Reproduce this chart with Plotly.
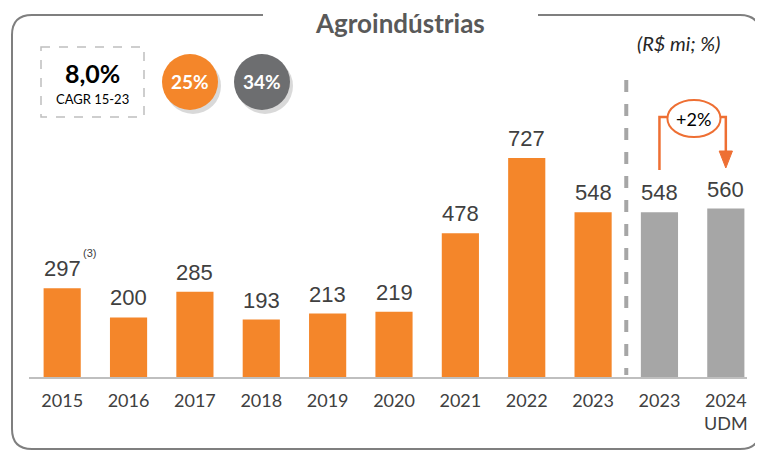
import plotly.graph_objects as go

categories = ["2015", "2016", "2017", "2018", "2019", "2020", "2021", "2022", "2023", "2023", "2024<br>UDM"]
values = [297, 200, 285, 193, 213, 219, 478, 727, 548, 548, 560]
bar_colors = ["#F4862A"] * 9 + ["#A6A6A6"] * 2
title_text = "Agroindústrias"
unit_text = "(R$ mi; %)"
cagr_value = "8,0%"
cagr_label = "CAGR 15-23"
share_orange = "25%"
share_gray = "34%"
growth_text = "+2%"
footnote = "(3)"

# page offset (body margin) compensation
OFF = 8
W, H = 763 - OFF, 451 - OFF

X0, X1 = 29, 759          # plot x extent (screen px)
YB, YT = 378, 40          # baseline / top (screen px)
ymax = (YB - YT) / 0.3026

def px(x):
    return (x - OFF) / W

def py(y):
    return 1 - (y - OFF) / H

idx = list(range(len(categories)))
SANS = "Lato, Open Sans, sans-serif"

fig = go.Figure()
fig.add_trace(go.Bar(
    x=idx, y=values, marker=dict(color=bar_colors, line=dict(width=0)),
    width=0.56, hoverinfo="skip", showlegend=False,
))

annotations = []
label_font = dict(family="Liberation Sans Narrow, Arial Narrow, Liberation Sans, Arial", size=22, color="#404040")
for i, v in zip(idx, values):
    annotations.append(dict(x=i, y=v, xref="x", yref="y", text=str(v), showarrow=False,
                            yanchor="bottom", yshift=5, font=label_font))
annotations.append(dict(x=0, y=values[0], xref="x", yref="y", text=footnote, showarrow=False,
                        xanchor="left", yanchor="bottom", xshift=19, yshift=27,
                        font=dict(family="Liberation Sans, Arial", size=11, color="#404040")))

annotations.append(dict(x=px(400), y=py(23), xref="paper", yref="paper", text="<b>" + title_text + "</b>",
                        showarrow=False, xanchor="center", yanchor="middle",
                        font=dict(family=SANS, size=26, color="#595959")))
annotations.append(dict(x=px(678), y=py(43), xref="paper", yref="paper", text="<i>" + unit_text + "</i>",
                        showarrow=False, xanchor="center", yanchor="middle",
                        font=dict(family=SANS, size=20, color="#262626")))
annotations.append(dict(x=px(92), y=py(73), xref="paper", yref="paper", text="<b>" + cagr_value + "</b>",
                        showarrow=False, xanchor="center", yanchor="middle",
                        font=dict(family=SANS, size=25, color="#000000")))
annotations.append(dict(x=px(92), y=py(99), xref="paper", yref="paper", text=cagr_label,
                        showarrow=False, xanchor="center", yanchor="middle",
                        font=dict(family=SANS, size=13, color="#000000")))
annotations.append(dict(x=px(190), y=py(82), xref="paper", yref="paper", text="<b>" + share_orange + "</b>",
                        showarrow=False, xanchor="center", yanchor="middle",
                        font=dict(family=SANS, size=19, color="#FFFFFF")))
annotations.append(dict(x=px(262), y=py(82), xref="paper", yref="paper", text="<b>" + share_gray + "</b>",
                        showarrow=False, xanchor="center", yanchor="middle",
                        font=dict(family=SANS, size=19, color="#FFFFFF")))

shapes = []
pts = [("M", 263, 15), ("L", 32, 15), ("Q", 12, 15, 12, 35), ("L", 12, 429), ("Q", 12, 449, 32, 449),
       ("L", 740, 449), ("Q", 760, 449, 760, 429), ("L", 760, 35), ("Q", 760, 15, 740, 15), ("L", 538, 15)]
path = ""
for p in pts:
    coords = p[1:]
    s = [f"{px(coords[k]):.5f},{py(coords[k+1]):.5f}" for k in range(0, len(coords), 2)]
    path += p[0] + " " + " ".join(s) + " "
shapes.append(dict(type="path", xref="paper", yref="paper", path=path.strip(),
                   line=dict(color="#7F7F7F", width=2)))

shapes.append(dict(type="line", xref="paper", yref="paper", x0=px(29), x1=px(747), y0=py(YB), y1=py(YB),
                   line=dict(color="#BFBFBF", width=2), layer="above"))

shapes.append(dict(type="rect", xref="paper", yref="paper", x0=px(41), x1=px(144), y0=py(47), y1=py(117),
                   line=dict(color="#BFBFBF", width=1.5, dash="dash")))

for cx, col in [(190, "#F4862A"), (262, "#6D6E70")]:
    r = 28
    shapes.append(dict(type="circle", xref="paper", yref="paper", x0=px(cx - r + 3), x1=px(cx + r + 3),
                       y0=py(82 + r + 4), y1=py(82 - r + 4), fillcolor="rgba(0,0,0,0.15)", line=dict(width=0)))
    shapes.append(dict(type="circle", xref="paper", yref="paper", x0=px(cx - r), x1=px(cx + r),
                       y0=py(82 + r), y1=py(82 - r), fillcolor=col, line=dict(width=0)))

shapes.append(dict(type="line", xref="x", yref="paper", x0=8.5, x1=8.5, y0=py(80), y1=py(375),
                   line=dict(color="#A6A6A6", width=4, dash="dash")))

arrow_col = "#EE6F33"
xa, xb = 9, 10
ell_cx = 9.52
ell_hw = 0.40
shapes.append(dict(type="path", xref="x", yref="paper",
                   path=f"M {xa},{py(170):.5f} L {xa},{py(117):.5f} L {ell_cx-ell_hw},{py(117):.5f}",
                   line=dict(color=arrow_col, width=2.5)))
shapes.append(dict(type="path", xref="x", yref="paper",
                   path=f"M {ell_cx+ell_hw},{py(117):.5f} L {xb},{py(117):.5f} L {xb},{py(153):.5f}",
                   line=dict(color=arrow_col, width=2.5)))
shapes.append(dict(type="path", xref="x", yref="paper",
                   path=f"M {xb-0.1},{py(151):.5f} L {xb+0.1},{py(151):.5f} L {xb},{py(168):.5f} Z",
                   fillcolor=arrow_col, line=dict(color=arrow_col, width=1)))
shapes.append(dict(type="circle", xref="x", yref="paper", x0=ell_cx - ell_hw, x1=ell_cx + ell_hw,
                   y0=py(137), y1=py(100), fillcolor="#FFFFFF", line=dict(color=arrow_col, width=2)))
annotations.append(dict(x=ell_cx, y=py(119), xref="x", yref="paper", text=growth_text, showarrow=False,
                        xanchor="center", yanchor="middle",
                        font=dict(family=SANS, size=18, color="#000000")))

fig.update_layout(
    width=W, height=H,
    margin=dict(l=0, r=0, t=0, b=0),
    paper_bgcolor="#FFFFFF", plot_bgcolor="rgba(0,0,0,0)",
    xaxis=dict(domain=[px(X0), px(X1)], range=[-0.5, len(categories) - 0.5],
               tickvals=idx, ticktext=categories, showgrid=False, zeroline=False, showline=False,
               ticks="", ticklabelstandoff=10,
               tickfont=dict(family=SANS, size=18, color="#404040"), fixedrange=True),
    yaxis=dict(domain=[py(YB), py(YT)], range=[0, ymax], visible=False, fixedrange=True),
    shapes=shapes, annotations=annotations,
)

fig.write_html("out.html")
